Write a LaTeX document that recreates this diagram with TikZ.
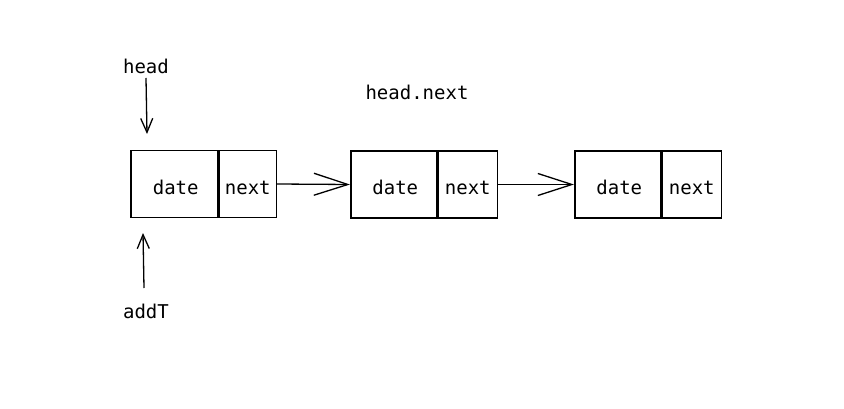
\documentclass[tikz,border=0pt]{standalone}
\usepackage{fontspec}
\setmonofont{DejaVu Sans Mono}
\usetikzlibrary{arrows.meta}
\begin{document}
\begin{tikzpicture}[x=1pt,y=-1pt,
  cell/.style={draw, line width=1.5pt, minimum height=67pt, inner sep=0pt, text height=21pt, text depth=0pt, font=\ttfamily\fontsize{19}{22}\selectfont, anchor=west},
  lbl/.style={font=\ttfamily\fontsize{19}{22}\selectfont, inner sep=0pt},
  link/.style={line width=1.3pt, -{Straight Barb[length=34pt,width=22pt,line width=1.3pt]}},
  ptr/.style={line width=1.3pt, -{Straight Barb[length=14pt,width=12pt,line width=1.3pt]}}]
\fill[white] (0,0) rectangle (844,409);
\useasboundingbox (0,0) rectangle (844,409);
% list nodes
\node[cell, minimum width=87pt] (d1) at (130,184) {\hspace*{3pt}date};
\node[cell, minimum width=57pt] (n1) at (d1.east) {next};
\node[cell, minimum width=86pt] (d2) at (350,184.5) {\hspace*{3pt}date};
\node[cell, minimum width=59pt] (n2) at (d2.east) {next};
\node[cell, minimum width=86pt] (d3) at (574,184.5) {\hspace*{3pt}date};
\node[cell, minimum width=59pt] (n3) at (d3.east) {next};
% labels
\node[lbl] (head) at (146,66) {head};
\node[lbl] (hn) at (417,92) {head.next};
\node[lbl] (addt) at (146,311) {addT};
\coordinate (hs) at (146,78);
\coordinate (he) at (147,134);
\coordinate (as) at (144,288);
\coordinate (ae) at (143,233);
% connectors
\draw[link] (n1.east) -- (d2.west);
\draw[link] (n2.east) -- (d3.west);
\draw[ptr] (hs) -- (he);
\draw[ptr] (as) -- (ae);
\end{tikzpicture}
\end{document}
